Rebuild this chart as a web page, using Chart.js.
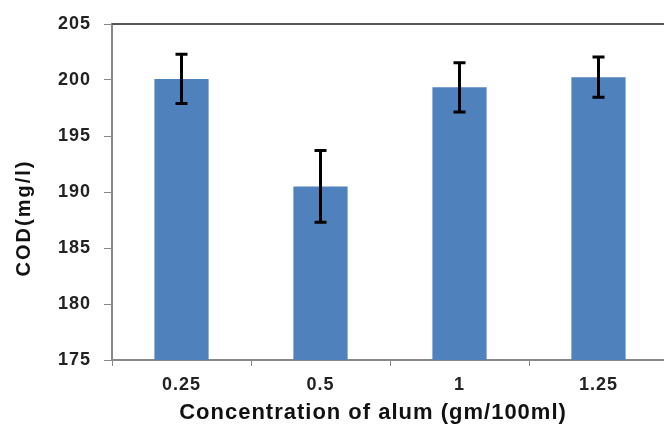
<!DOCTYPE html>
<html>
<head>
<meta charset="utf-8">
<script src="https://cdn.jsdelivr.net/npm/chart.js@4"></script>
<style>
  html, body { margin: 0; padding: 0; background: #fff; overflow: hidden; }
  #wrap { width: 672px; height: 428px; position: relative; }
</style>
</head>
<body>
<div id="wrap"><canvas id="chart"></canvas></div>
<script>
const concentrations = ['0.25', '0.5', '1', '1.25'];
const codValues = [200.1, 190.5, 199.35, 200.25];
const codErrors = [2.2, 3.2, 2.2, 1.8];
const yTicks = [175, 180, 185, 190, 195, 200, 205];
const xTitle = 'Concentration of alum (gm/100ml)';
const yTitle = 'COD(mg/l)';

const FONT = 'Liberation Sans';

// spread letters a little, like the original export
const spacing = {
    id: 'spacing',
    beforeUpdate(chart) { chart.ctx.letterSpacing = '1px'; },
    beforeDraw(chart) { chart.ctx.letterSpacing = '1px'; }
};

const errorBars = {
    id: 'errorBars',
    afterDatasetsDraw(chart) {
        const ctx = chart.ctx;
        const meta = chart.getDatasetMeta(0);
        const y = chart.scales.y;
        ctx.save();
        ctx.strokeStyle = '#000';
        ctx.lineWidth = 3;
        meta.data.forEach((bar, i) => {
            const top = y.getPixelForValue(codValues[i] + codErrors[i]);
            const bot = y.getPixelForValue(codValues[i] - codErrors[i]);
            ctx.beginPath();
            ctx.moveTo(bar.x, top);
            ctx.lineTo(bar.x, bot);
            ctx.moveTo(bar.x - 6, top);
            ctx.lineTo(bar.x + 6, top);
            ctx.moveTo(bar.x - 6, bot);
            ctx.lineTo(bar.x + 6, bot);
            ctx.stroke();
        });
        const area = chart.chartArea;
        ctx.strokeStyle = '#555';
        ctx.lineWidth = 2;
        ctx.beginPath();
        ctx.moveTo(area.left, area.top);
        ctx.lineTo(area.right, area.top);
        ctx.stroke();
        ctx.restore();
    },
    afterDraw(chart) {
        const ctx = chart.ctx;
        const area = chart.chartArea;
        ctx.save();
        ctx.fillStyle = '#111';
        ctx.letterSpacing = '1px';
        ctx.font = 'bold 22px ' + FONT;
        ctx.textAlign = 'center';
        ctx.textBaseline = 'alphabetic';
        ctx.fillText(xTitle, area.left + 261, 419);
        ctx.letterSpacing = '2px';
        ctx.font = 'bold 20px ' + FONT;
        ctx.translate(30, area.top + 194);
        ctx.rotate(-Math.PI / 2);
        ctx.fillText(yTitle, 0, 0);
        ctx.restore();
    }
};

new Chart(document.getElementById('chart'), {
    type: 'bar',
    data: {
        labels: concentrations,
        datasets: [{
            data: codValues,
            backgroundColor: '#4f81bd',
            barPercentage: 0.39,
            categoryPercentage: 1
        }]
    },
    options: {
        responsive: true,
        maintainAspectRatio: false,
        animation: false,
        layout: { padding: { top: 24, left: 0, right: 4, bottom: 0 } },
        plugins: {
            legend: { display: false },
            tooltip: { enabled: false }
        },
        scales: {
            x: {
                grid: { drawOnChartArea: false, color: '#888', tickLength: 6, offset: true },
                border: { color: '#888', width: 2 },
                ticks: { color: '#222', font: { family: FONT, weight: 'bold', size: 18 }, padding: 8 },
                afterFit(scale) { scale.height = 68; }
            },
            y: {
                min: 175,
                max: 205,
                afterBuildTicks(scale) { scale.ticks = yTicks.map(v => ({ value: v })); },
                grid: { drawOnChartArea: false, color: '#888', tickLength: 8 },
                border: { color: '#888', width: 2 },
                ticks: { color: '#222', font: { family: FONT, weight: 'bold', size: 18 }, padding: 13 },
                afterFit(scale) { scale.width = 112; }
            }
        }
    },
    plugins: [spacing, errorBars]
});
</script>
</body>
</html>
